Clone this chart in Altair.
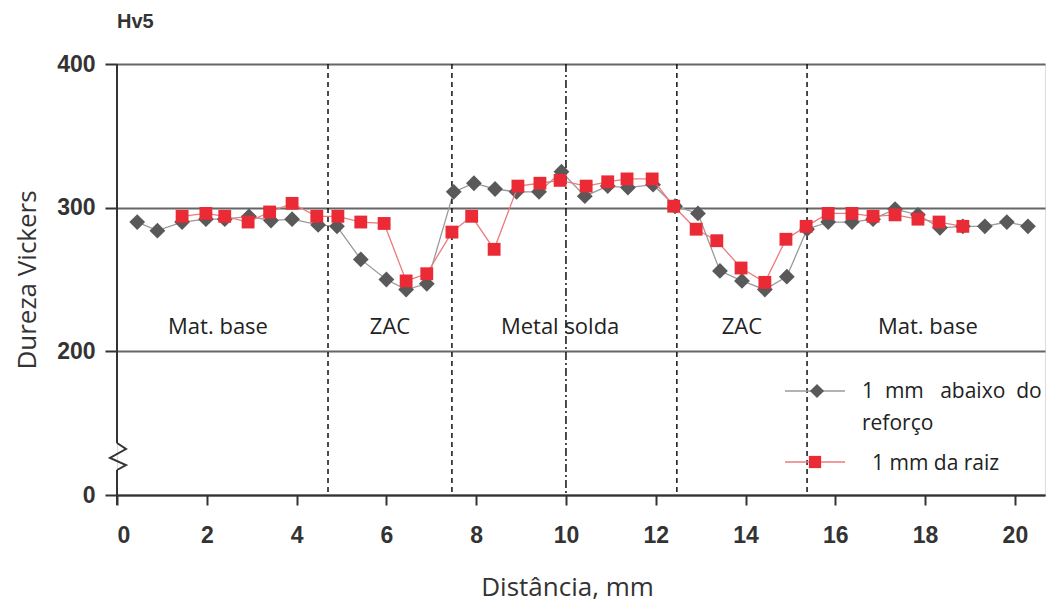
import altair as alt
import pandas as pd

# ---- data ----
gray_x = [0.45, 0.9, 1.45, 1.98, 2.4, 2.94, 3.43, 3.9, 4.48, 4.9, 5.43, 6.0, 6.44, 6.9,
          7.5, 7.95, 8.42, 8.9, 9.4, 9.9, 10.42, 10.93, 11.38, 11.94, 12.43, 12.94, 13.43,
          13.92, 14.43, 14.92, 15.37, 15.84, 16.37, 16.84, 17.33, 17.84, 18.33, 18.84,
          19.33, 19.82, 20.29]
gray_y = [290, 284, 290, 292, 292, 294, 291, 292, 288, 287, 264, 250, 243, 247,
          311, 317, 313, 311, 311, 325, 308, 315, 314, 316, 301, 296, 256,
          249, 243, 252, 285, 290, 290, 292, 299, 295, 286, 287,
          287, 290, 287]
red_x = [1.45, 1.98, 2.4, 2.92, 3.4, 3.9, 4.45, 4.92, 5.43, 5.95, 6.44, 6.9, 7.46, 7.9,
         8.4, 8.93, 9.42, 9.87, 10.45, 10.93, 11.36, 11.92, 12.4, 12.9, 13.36, 13.9,
         14.43, 14.9, 15.35, 15.84, 16.37, 16.84, 17.33, 17.84, 18.31, 18.84]
red_y = [294, 296, 294, 290, 297, 303, 294, 294, 290, 289, 249, 254, 283, 294,
         271, 315, 317, 319, 315, 318, 320, 320, 301, 285, 277, 258,
         248, 278, 287, 296, 296, 294, 295, 292, 290, 287]

zone_x = [4.7, 7.46, 12.47, 15.37]
center_x = [10.0]
region_labels = ["Mat. base", "ZAC", "Metal solda", "ZAC", "Mat. base"]
region_x = [2.25, 6.08, 9.87, 13.92, 18.06]
region_y = [217, 217, 217, 217, 217]

x_ticks = list(range(0, 21, 2))
y_ticks = [100, 200, 300, 400]

gray_df = pd.DataFrame({"x": gray_x, "y": gray_y})
red_df = pd.DataFrame({"x": red_x, "y": red_y})
zones_df = pd.DataFrame({"x": zone_x})
center_df = pd.DataFrame({"x": center_x})
regions_df = pd.DataFrame({"label": region_labels, "x": region_x, "y": region_y})

W, H = 928, 431
xs = alt.Scale(domain=[0, 20.67], nice=False, zero=False)
ys = alt.Scale(domain=[100, 400], nice=False, zero=False)

AXIS_FONT = "Liberation Sans"
TXT_FONT = "Open Sans"

base_x = alt.X("x:Q", scale=xs,
               axis=alt.Axis(values=x_ticks, title="Distância, mm", grid=False,
                             labelFont=AXIS_FONT, labelFontWeight="bold", labelFontSize=23,
                             labelColor="#333333", tickColor="#333333", tickSize=10,
                             tickWidth=2, domainColor="#333333", domainWidth=2,
                             labelPadding=19, titleFont=TXT_FONT, titleFontSize=26,
                             titleFontWeight="normal", titleColor="#333333",
                             titlePadding=27, titleX=450, titleAlign="center"))
base_y = alt.Y("y:Q", scale=ys,
               axis=alt.Axis(values=y_ticks, title="Dureza Vickers",
                             labelExpr="datum.value == 100 ? '0' : datum.label",
                             grid=True, gridColor="#666666", gridWidth=2,
                             domain=False, labelFont=AXIS_FONT, labelFontWeight="bold",
                             labelFontSize=23, labelColor="#333333", tickColor="#333333",
                             tickSize=12, tickWidth=2, labelPadding=10,
                             titleFont=TXT_FONT, titleFontSize=26,
                             titleFontWeight="normal", titleColor="#333333",
                             titlePadding=16))

gray_line = alt.Chart(gray_df).mark_line(color="#9a9a9a", strokeWidth=1.3).encode(x=base_x, y=base_y)
gray_pts = alt.Chart(gray_df).mark_point(shape="diamond", filled=True, color="#595959",
                                         size=250, opacity=1).encode(x="x:Q", y="y:Q")
red_line = alt.Chart(red_df).mark_line(color="#ec7a7e", strokeWidth=1.3).encode(x="x:Q", y="y:Q")
red_pts = alt.Chart(red_df).mark_point(shape="square", filled=True, color="#ea2b35",
                                       size=165, opacity=1).encode(x="x:Q", y="y:Q")

zones = alt.Chart(zones_df).mark_rule(color="#111111", strokeWidth=1.5,
                                      strokeDash=[5, 4]).encode(x="x:Q")
center = alt.Chart(center_df).mark_rule(color="#111111", strokeWidth=1.5,
                                        strokeDash=[8, 3, 2, 3]).encode(x="x:Q")

regions = alt.Chart(regions_df).mark_text(font=TXT_FONT, fontSize=22, color="#222222").encode(
    x="x:Q", y="y:Q", text="label:N")

# y axis line with a break symbol (decoration, pixel positions)
axis_seg = pd.DataFrame({"y1": [0, 406], "y2": [379, 441]})
axis_rules = alt.Chart(axis_seg).mark_rule(color="#333333", strokeWidth=2).encode(
    x=alt.value(0), y=alt.Y("y1:Q", scale=None), y2="y2:Q")
zig = pd.DataFrame({"px": [0, 9, -7, 9, 0], "py": [379, 385, 394, 401, 406], "o": [0, 1, 2, 3, 4]})
zigzag = alt.Chart(zig).mark_line(color="#333333", strokeWidth=2).encode(
    x=alt.X("px:Q", scale=None), y=alt.Y("py:Q", scale=None), order="o:Q")

hv5 = alt.Chart(pd.DataFrame({"t": ["Hv5"]})).mark_text(
    font=AXIS_FONT, fontWeight="bold", fontSize=20, color="#333333", align="left",
    baseline="middle").encode(x=alt.value(0), y=alt.value(-42), text="t:N")

# manual legend
NB = "\u00a0"
leg_lines = pd.DataFrame({"x1": [668, 668], "x2": [728, 728], "y": [327, 398],
                          "c": ["#9a9a9a", "#ec7a7e"]})
leg_rules = alt.Chart(leg_lines).mark_rule(strokeWidth=1.5).encode(
    x=alt.X("x1:Q", scale=None), x2="x2:Q", y=alt.Y("y:Q", scale=None),
    color=alt.Color("c:N", scale=None))
leg_d = alt.Chart(pd.DataFrame({"a": [0]})).mark_point(
    shape="diamond", filled=True, color="#595959", size=200, opacity=1).encode(
    x=alt.value(700), y=alt.value(327))
leg_s = alt.Chart(pd.DataFrame({"a": [0]})).mark_point(
    shape="square", filled=True, color="#ea2b35", size=150, opacity=1).encode(
    x=alt.value(698), y=alt.value(398))
leg_txt = pd.DataFrame({"t": ["1" + NB * 2 + "mm" + NB * 3 + "abaixo" + NB * 2 + "do",
                              "reforço", "1 mm da raiz"],
                        "px": [745, 745, 755], "py": [328, 360, 400]})
leg_text = alt.Chart(leg_txt).mark_text(font=TXT_FONT, fontSize=21, color="#222222",
                                        align="left", baseline="middle").encode(
    x=alt.X("px:Q", scale=None), y=alt.Y("py:Q", scale=None), text="t:N")

chart = alt.layer(
    gray_line, zones, center, gray_pts, red_line, red_pts, regions,
    axis_rules, zigzag, hv5, leg_rules, leg_d, leg_s, leg_text
).properties(
    width=W, height=H,
    autosize=alt.AutoSizeParams(type="none"),
    padding={"left": 109, "top": 56, "right": 9, "bottom": 108},
).configure_view(stroke=None).configure(background="white")

chart.save("out.html", embed_options={"renderer": "svg", "actions": False})
